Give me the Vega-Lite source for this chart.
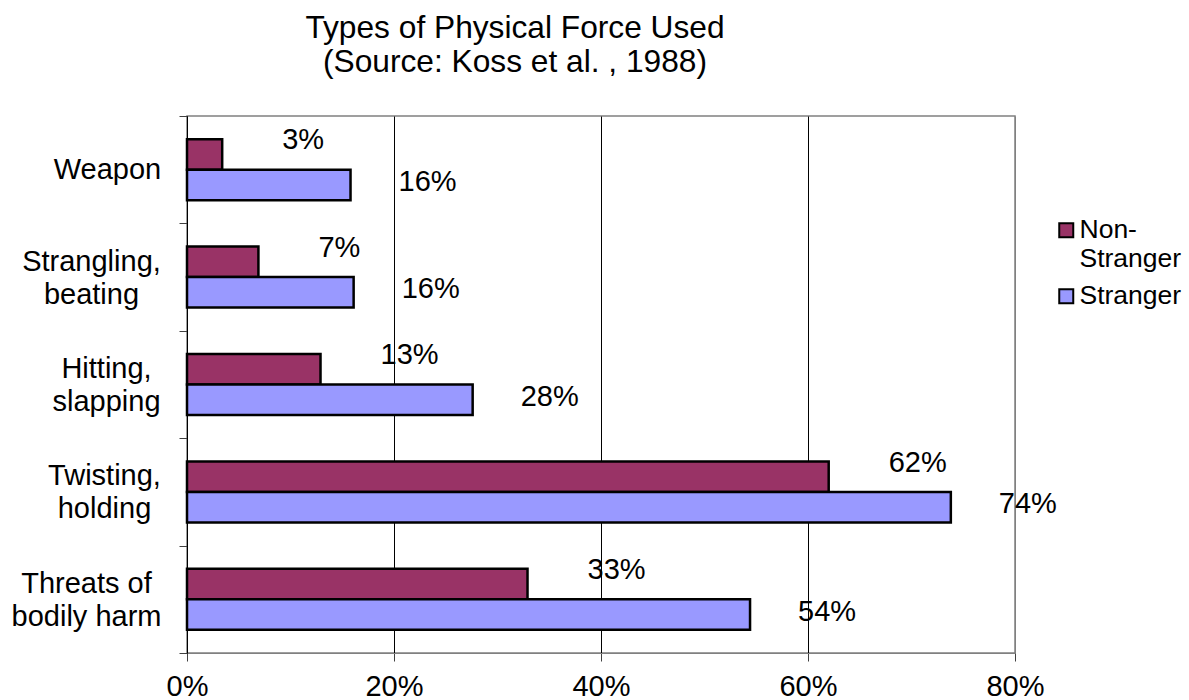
{
  "$schema": "https://vega.github.io/schema/vega-lite/v6.json",
  "width": 828,
  "height": 537,
  "autosize": {"type": "none"},
  "padding": {"left": 187, "top": 116, "right": 174, "bottom": 47},
  "background": "white",
  "config": {
    "font": "Liberation Sans",
    "view": {"stroke": "#808080", "strokeWidth": 1.5}
  },
  "title": {
    "text": ["Types of Physical Force Used", "(Source: Koss et al. , 1988)"],
    "fontSize": 31.7,
    "fontWeight": "normal",
    "font": "Liberation Sans",
    "color": "black",
    "lineHeight": 34,
    "anchor": "middle",
    "dx": -86,
    "offset": 23
  },
  "data": {
    "values": [
      {"type": "Weapon", "group": "Non-Stranger", "value": 0.034},
      {"type": "Weapon", "group": "Stranger", "value": 0.158},
      {"type": "Strangling, beating", "group": "Non-Stranger", "value": 0.069},
      {"type": "Strangling, beating", "group": "Stranger", "value": 0.161},
      {"type": "Hitting, slapping", "group": "Non-Stranger", "value": 0.129},
      {"type": "Hitting, slapping", "group": "Stranger", "value": 0.276},
      {"type": "Twisting, holding", "group": "Non-Stranger", "value": 0.62},
      {"type": "Twisting, holding", "group": "Stranger", "value": 0.738},
      {"type": "Threats of bodily harm", "group": "Non-Stranger", "value": 0.329},
      {"type": "Threats of bodily harm", "group": "Stranger", "value": 0.544}
    ]
  },
  "encoding": {
    "y": {
      "field": "type",
      "type": "nominal",
      "sort": ["Weapon", "Strangling, beating", "Hitting, slapping", "Twisting, holding", "Threats of bodily harm"],
      "scale": {"paddingInner": 0, "paddingOuter": 0},
      "axis": {
        "title": null,
        "labelExpr": "split(replace(replace(datum.label, ', ', ',|'), 'of ', 'of|'), '|')",
        "labelAlign": "center",
        "labelFontSize": 29,
        "labelLineHeight": 33,
        "labelColor": "black",
        "labelPadding": {"condition": [
          {"test": "datum.value == 'Weapon'", "value": 72},
          {"test": "datum.value == 'Strangling, beating'", "value": 88},
          {"test": "datum.value == 'Hitting, slapping'", "value": 73},
          {"test": "datum.value == 'Twisting, holding'", "value": 75}
        ], "value": 93},
        "labelOffset": {"condition": {"test": "datum.value == 'Weapon'", "value": 0}, "value": -16},
        "tickBand": "extent",
        "tickSize": 8,
        "tickColor": "#404040",
        "domainColor": "black",
        "grid": false
      }
    },
    "yOffset": {
      "field": "group",
      "sort": ["Non-Stranger", "Stranger"],
      "scale": {"paddingInner": 0, "paddingOuter": 0.76}
    },
    "x": {
      "field": "value",
      "type": "quantitative",
      "scale": {"domain": [0, 0.8]},
      "axis": {
        "title": null,
        "format": ".0%",
        "values": [0, 0.2, 0.4, 0.6, 0.8],
        "labelFlush": false,
        "labelFontSize": 29,
        "labelColor": "black",
        "labelPadding": 11,
        "tickSize": 8,
        "tickColor": "#404040",
        "domainColor": "#808080",
        "grid": true,
        "gridColor": {"condition": {"test": "datum.value >= 0.8", "value": "#808080"}, "value": "black"},
        "gridWidth": 1,
        "gridOpacity": 1
      }
    }
  },
  "layer": [
    {
      "mark": {"type": "bar", "stroke": "black", "strokeWidth": 2.5},
      "encoding": {
        "color": {
          "field": "group",
          "type": "nominal",
          "scale": {"domain": ["Non-Stranger", "Stranger"], "range": ["#993366", "#9999FF"]},
          "legend": {
            "title": null,
            "orient": "none",
            "legendX": 866,
            "legendY": 101,
            "labelFontSize": 26.5,
            "labelColor": "black",
            "labelExpr": "datum.label == 'Non-Stranger' ? ['Non-', 'Stranger'] : datum.label",
            "labelLineHeight": 32,
            "symbolType": "square",
            "symbolSize": 196,
            "symbolStrokeColor": "black",
            "symbolStrokeWidth": 2,
            "labelOffset": 0,
            "rowPadding": 10
          }
        }
      }
    },
    {
      "transform": [{"filter": "datum.group == 'Non-Stranger'"}],
      "mark": {"type": "text", "align": "left", "baseline": "middle", "fontSize": 29, "color": "black", "dx": 60, "dy": -14},
      "encoding": {"text": {"field": "value", "type": "quantitative", "format": ".0%"}}
    },
    {
      "transform": [{"filter": "datum.group == 'Stranger'"}],
      "mark": {"type": "text", "align": "left", "baseline": "middle", "fontSize": 29, "color": "black", "dx": 48, "dy": -3},
      "encoding": {"text": {"field": "value", "type": "quantitative", "format": ".0%"}}
    }
  ]
}
